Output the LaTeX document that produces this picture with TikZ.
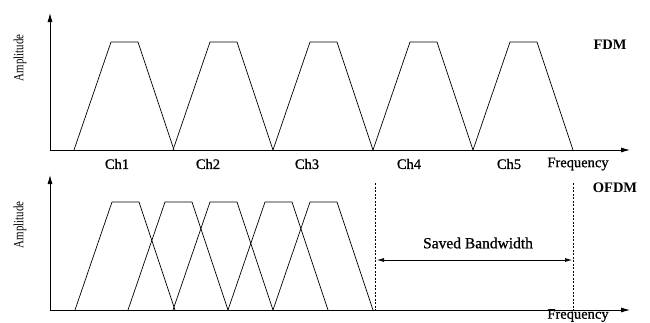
\documentclass[tikz,border=0pt]{standalone}
\usepackage{fontspec}
\setmainfont{Liberation Serif}
\newfontfamily\semibold[FakeBold=0.8]{Liberation Serif}
\usetikzlibrary{arrows.meta}
\tikzset{
  axis/.style={line width=0.8pt,-{Latex[length=9pt,width=5pt]}},
  band/.style={line width=0.7pt},
  guide/.style={line width=0.8pt,dash pattern=on 2pt off 1.5pt},
  span/.style={line width=0.7pt,{Latex[length=7pt,width=4pt]}-{Latex[length=7pt,width=4pt]}},
  lbl/.style={font=\fontsize{14.5}{16}\selectfont\semibold,inner sep=0pt},
  title/.style={font=\fontsize{14.5}{16}\selectfont\bfseries,inner sep=0pt},
  amp/.style={font=\fontsize{14}{16}\selectfont,inner sep=0pt,rotate=90,xscale=0.78}
}
\begin{document}
\begin{tikzpicture}[x=1pt,y=-1pt]
\useasboundingbox (0,0) rectangle (650,322);

% FDM: axes
\coordinate (O1) at (50,150);
\coordinate (Y1) at (50,13);
\coordinate (X1) at (630,150);
\draw[axis] (O1) -- (Y1);
\draw[axis] (O1) -- (X1);

% FDM: separated channels
\foreach \s in {74,173,273,373,473}
  \draw[band] (\s,150) -- ++(37,-108) -- ++(27,0) -- ++(36,108);

% FDM: labels
\foreach \i/\x in {1/117,2/208,3/307,4/409,5/509}
  \node[lbl] (ch\i) at (\x,164) {Ch\i};
\node[lbl]   (freq1) at (578,164) {Frequency};
\node[title] (fdm)   at (610,45)  {FDM};
\node[amp]   (amp1)  at (20,58)   {Amplitude};

% OFDM: axes
\coordinate (O2) at (50,310);
\coordinate (Y2) at (50,175);
\coordinate (X2) at (630,310);
\draw[axis] (O2) -- (Y2);
\draw[axis] (O2) -- (X2);

% OFDM: overlapping channels
\foreach \s in {75,128,173,228,273}
  \draw[band] (\s,310) -- ++(37,-108) -- ++(27,0) -- ++(36,108);

% OFDM: saved bandwidth
\coordinate (L1) at (375,183);
\coordinate (L2) at (375,310);
\coordinate (R1) at (573,183);
\coordinate (R2) at (573,310);
\draw[guide] (L1) -- (L2);
\draw[guide] (R1) -- (R2);
\coordinate (SL) at (377,260);
\coordinate (SR) at (572,260);
\draw[span] (SL) -- (SR);
\node[lbl,font=\fontsize{15.5}{16}\selectfont\semibold] (saved) at (478,243) {Saved Bandwidth};

% OFDM: labels
\node[lbl]   (freq2) at (578,315.5) {Frequency};
\node[title] (ofdm)  at (615,188) {OFDM};
\node[amp]   (amp2)  at (20,225)  {Amplitude};

\end{tikzpicture}
\end{document}
